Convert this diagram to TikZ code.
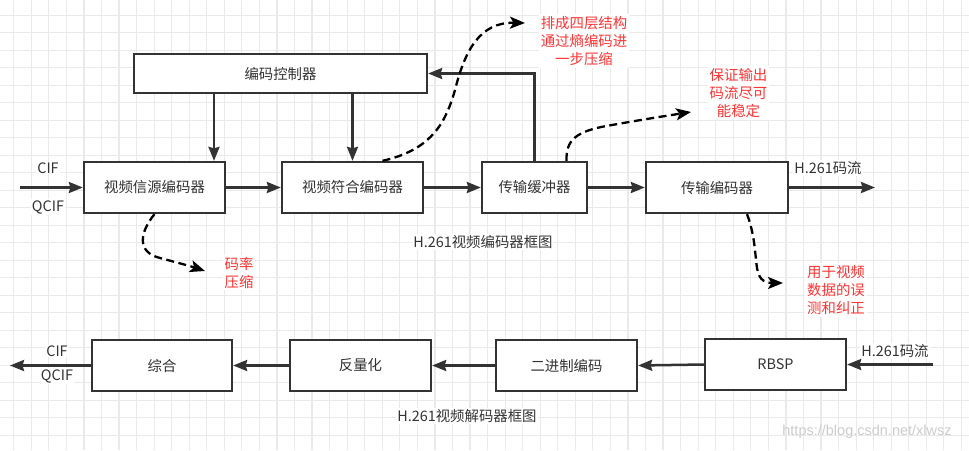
\documentclass[tikz,border=0pt]{standalone}
\usepackage{fontspec}
\setmainfont{Noto Sans CJK SC}
\newfontfamily\wmfont{Liberation Sans}
\usetikzlibrary{arrows.meta,calc}
\definecolor{ln}{RGB}{51,51,51}
\definecolor{txt}{RGB}{51,51,51}
\definecolor{rd}{RGB}{255,51,51}
\definecolor{gridc}{RGB}{234,234,234}
\definecolor{wmc}{RGB}{205,205,205}
\begin{document}
\begin{tikzpicture}[x=1pt,y=-1pt,
  box/.style={draw=ln, line width=2.3pt, fill=white, inner sep=0pt, text=txt, font=\fontsize{14.4}{18}\selectfont},
  arr/.style={draw=ln, line width=2.5pt, -{Stealth[length=14pt,width=11pt,inset=1.5pt]}},
  darr/.style={draw=black, line width=2.3pt, dash pattern=on 8pt off 4.5pt, -{Stealth[length=15pt,width=12pt,inset=3.5pt]}},
  lbl/.style={text=txt, font=\fontsize{14.4}{18}\selectfont, fill=white, inner sep=1pt},
  note/.style={text=rd, font=\fontsize{14.4}{18}\selectfont, align=center, fill=white, inner sep=2pt},
]
\fill[white] (0,0) rectangle (969,450);
\useasboundingbox (0,0) rectangle (969,450);
\foreach \i in {0,...,54} \draw[gridc, line width=1.2pt] ({13.7+17.55*\i},0) -- ({13.7+17.55*\i},450);
\foreach \j in {0,...,24} \draw[gridc, line width=1.2pt] (0,{15.3+17.5*\j}) -- (969,{15.3+17.5*\j});

% encoder boxes
\node[box, minimum width=293pt, minimum height=39pt] (ctrl) at (280.5,73.5) {编码控制器};
\node[box, minimum width=141pt, minimum height=51pt] (src) at (154.5,187.5) {视频信源编码器};
\node[box, minimum width=141pt, minimum height=51pt] (sym) at (352.5,187.5) {视频符合编码器};
\node[box, minimum width=105pt, minimum height=51pt] (buf) at (534.5,187.5) {传输缓冲器};
\node[box, minimum width=142pt, minimum height=51pt] (tenc) at (717,187.5) {传输编码器};

% decoder boxes
\node[box, minimum width=140pt, minimum height=51pt] (zh) at (162,365.5) {综合};
\node[box, minimum width=141pt, minimum height=51pt] (flq) at (360.5,365.5) {反量化};
\node[box, minimum width=141pt, minimum height=51pt] (bin) at (566.5,365.5) {二进制编码};
\node[box, minimum width=141pt, minimum height=51pt] (rbsp) at (775.5,364.5) {RBSP};

% labels
\node[lbl] (cif1) at (48,168) {CIF};
\node[lbl] (qcif1) at (48,207) {QCIF};
\node[lbl] (h1) at (828,168) {H.261码流};
\node[lbl] (t1) at (483,242) {H.261视频编码器框图};
\node[lbl] (cif2) at (57,351) {CIF};
\node[lbl] (qcif2) at (57,376) {QCIF};
\node[lbl] (h2) at (895,351) {H.261码流};
\node[lbl] (t2) at (467,416) {H.261视频解码器框图};

% notes
\node[note] (n1) at (584,41) {排成四层结构\\通过熵编码进\\一步压缩};
\node[note] (n2) at (738.5,93) {保证输出\\码流尽可\\能稳定};
\node[note] (n3) at (836,290) {用于视频\\数据的误\\测和纠正};
\node[note] (n4) at (239,272.5) {码率\\压缩};

\node[text=wmc, font=\wmfont\fontsize{14.5}{16}\selectfont, inner sep=0pt] (wm) at (867,432) {https://blog.csdn.net/xlwsz};

% coordinates
\coordinate (in1) at (20,187.5);
\coordinate (out1) at (875,187.5);
\coordinate (in2) at (933,364.5);
\coordinate (out2) at (10,365.5);
\coordinate (cx) at (214,0);
\coordinate (d1e) at (205,271);
\coordinate (d2e) at (525,23);
\coordinate (d3e) at (691,112);
\coordinate (d4e) at (783,283);

% encoder connectors
\draw[arr] (in1) -- (src.west);
\draw[arr] (src.east) -- (sym.west);
\draw[arr] (sym.east) -- (buf.west);
\draw[arr] (buf.east) -- (tenc.west);
\draw[arr] (tenc.east) -- (out1);
\draw[arr] (ctrl.south -| cx) -- (src.north -| cx);
\draw[arr] (ctrl.south -| sym.north) -- (sym.north);
\draw[arr] (buf.north) |- (ctrl.east);

% decoder connectors
\draw[arr] (in2) -- (rbsp.east);
\draw[arr] (rbsp.west) -- (bin.east);
\draw[arr] (bin.west) -- (flq.east);
\draw[arr] (flq.west) -- (zh.east);
\draw[arr] (zh.west) -- (out2);

% dashed notes
\draw[darr] (src.south) .. controls (140,232) and (136,252) .. (160,258) .. controls (175,262) and (190,266) .. (d1e);
\draw[darr] ($(sym.north)+(30,0)$) .. controls (430,150) and (445,125) .. (455,90) .. controls (465,50) and (480,22) .. (d2e);
\draw[darr] ($(buf.north)+(32,0)$) .. controls (566,140) and (575,131) .. (612,125) .. controls (640,120) and (665,116) .. (d3e);
\draw[darr] ($(tenc.south)+(30,0)$) .. controls (755,235) and (755,255) .. (757,268) .. controls (759,281) and (766,283) .. (d4e);
\end{tikzpicture}
\end{document}
